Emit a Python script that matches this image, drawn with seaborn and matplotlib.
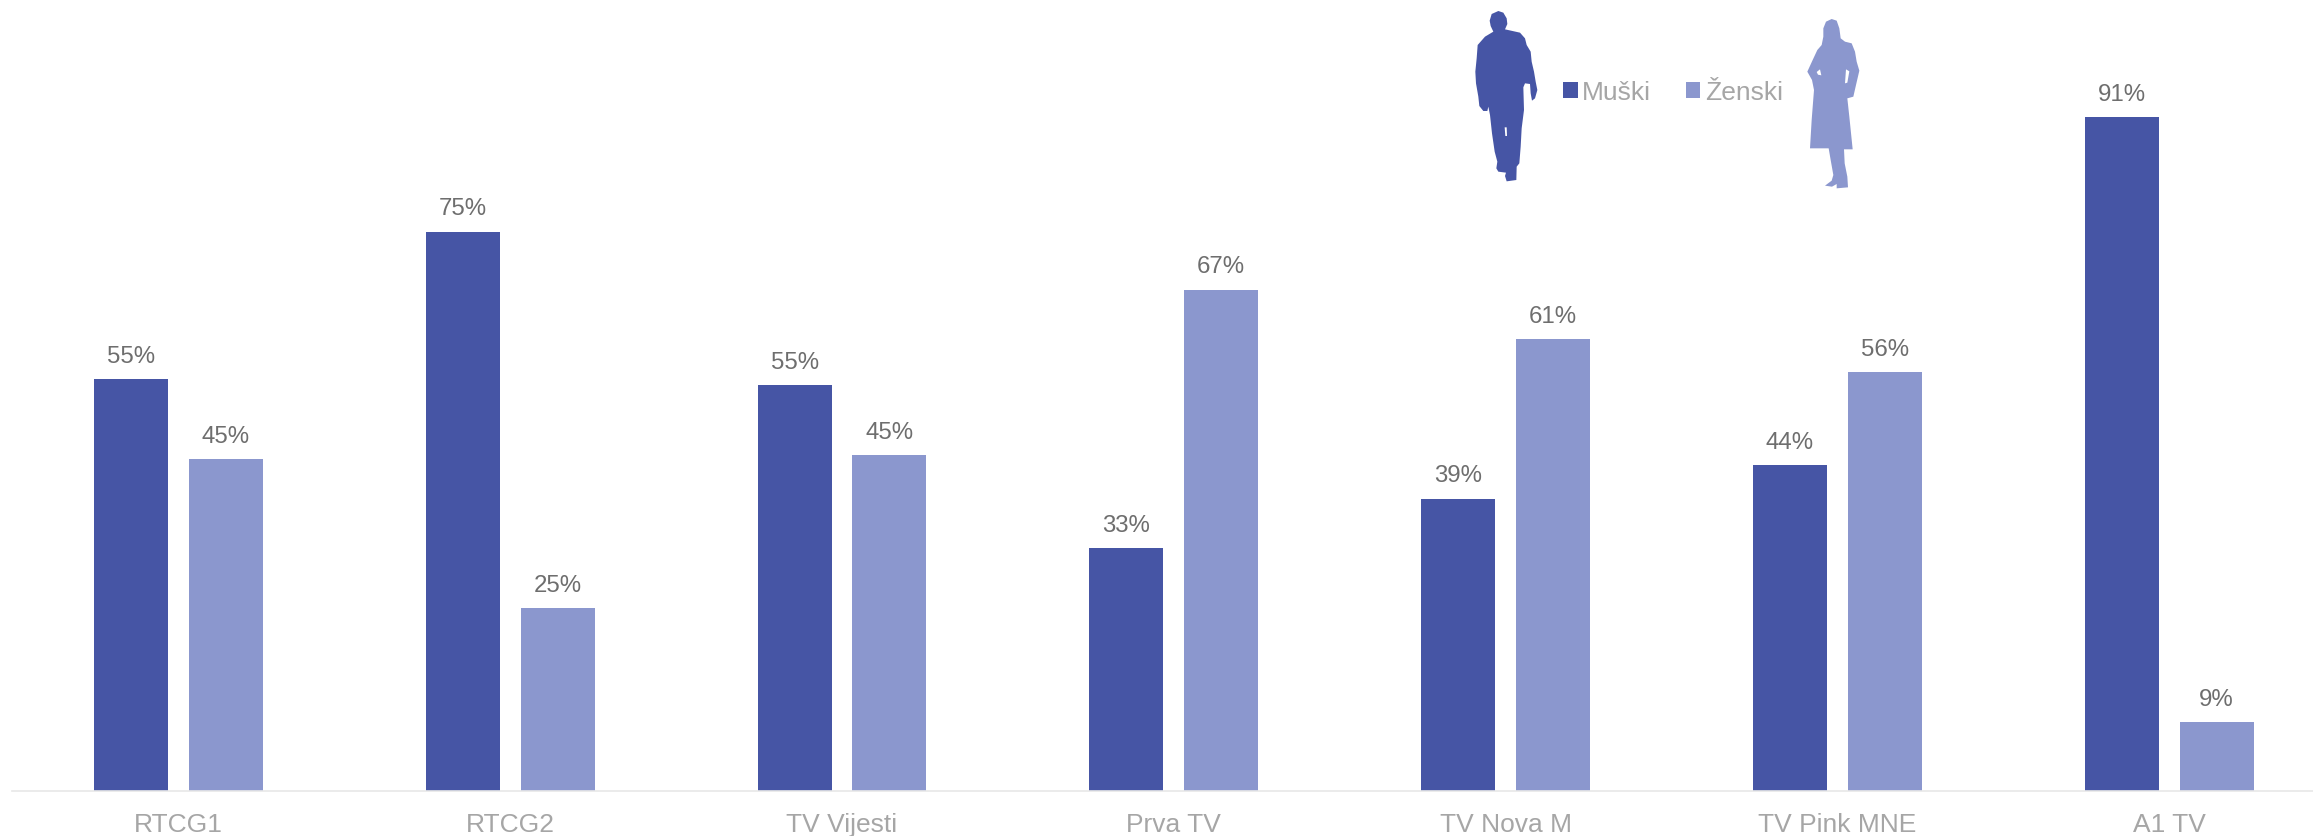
import pandas as pd
import seaborn as sns
import matplotlib.pyplot as plt
from matplotlib.patches import Polygon

channels = ['RTCG1', 'RTCG2', 'TV Vijesti', 'Prva TV', 'TV Nova M', 'TV Pink MNE', 'A1 TV']
muski = [55.4, 75.2, 54.6, 32.6, 39.3, 43.8, 90.6]
zenski = [44.6, 24.6, 45.2, 67.4, 60.7, 56.3, 9.3]

DARK = '#4655A5'
LIGHT = '#8B97CE'

sns.set_theme(style='white')
plt.rcParams['font.family'] = ['Liberation Sans', 'DejaVu Sans']

df = pd.DataFrame({
    'Kanal': channels * 2,
    'Pol': ['Muški'] * len(channels) + ['Ženski'] * len(channels),
    'Udio': muski + zenski,
})

W, H = 2313, 836
fig = plt.figure(figsize=(W / 100, H / 100), dpi=100)

# axes span from x=12 to the right edge, baseline at y=791 px
ax = fig.add_axes([12 / W, (H - 791) / H, (W - 12) / W, 791 / H])
sns.barplot(data=df, x='Kanal', y='Udio', hue='Pol', palette=[DARK, LIGHT],
            width=0.571, gap=0.219, saturation=1, linewidth=0, ax=ax)

ax.set_xlim((12 - 178.4) / 331.8, (W - 178.4) / 331.8)
ax.set_ylim(0, 791 / 7.44)
ax.set_xlabel('')
ax.set_ylabel('')
ax.set_yticks([])
ax.tick_params(axis='x', length=0, pad=15.5, labelsize=19, labelcolor='#A6A6A6')
for side in ['top', 'left', 'right']:
    ax.spines[side].set_visible(False)
ax.spines['bottom'].set_color('#E8E8E8')
ax.spines['bottom'].set_linewidth(1.2)

for container in ax.containers:
    ax.bar_label(container, fmt='%.0f%%', padding=8, fontsize=17.3, color='#6E6E6E')

# legend sits between the two silhouettes
ax.legend(loc='center left', bbox_to_anchor=(1563 / W, (H - 92.5) / H),
          bbox_transform=fig.transFigure, ncol=2, frameon=False, fontsize=19,
          labelcolor='#A6A6A6', handlelength=0.56, handleheight=0.56,
          handletextpad=0.17, columnspacing=1.3, borderpad=0, borderaxespad=0)

# silhouettes, in pixels of the full figure
overlay = fig.add_axes([0, 0, 1, 1], facecolor='none')
overlay.set_xlim(0, W)
overlay.set_ylim(H, 0)
overlay.axis('off')

man = [(235, 33), (250, 38), (260, 55), (262, 72), (255, 88), (300, 98), (315, 115), (320, 135),
       (332, 155), (335, 185), (342, 215), (347, 245), (352, 270), (345, 295), (336, 302),
       (332, 280), (330, 252), (315, 250), (310, 262), (312, 330), (305, 385), (302, 440),
       (298, 490), (290, 500), (289, 540), (260, 544), (255, 528), (258, 518), (235, 515),
       (229, 505), (232, 485), (224, 455), (216, 400), (210, 345), (205, 320), (202, 333),
       (190, 333), (178, 318), (175, 290), (168, 250), (166, 215), (170, 175), (173, 135),
       (195, 110), (220, 95), (212, 78), (209, 62), (215, 42)]
man_gap = [(254, 382), (260, 382), (261, 408), (256, 408)]

woman = [(1235, 57), (1250, 62), (1258, 85), (1262, 115), (1275, 125), (1295, 130), (1305, 155),
         (1310, 185), (1318, 212), (1308, 255), (1300, 290), (1282, 295), (1288, 350), (1298, 448),
         (1272, 448), (1274, 490), (1282, 530), (1284, 562), (1250, 565), (1250, 552), (1236, 560),
         (1215, 557), (1235, 542), (1240, 525), (1232, 480), (1226, 445), (1170, 445), (1175, 360),
         (1182, 270), (1176, 240), (1162, 215), (1178, 180), (1192, 150), (1205, 135), (1210, 110),
         (1210, 85), (1218, 65)]
woman_gaps = [[(1190, 216), (1200, 208), (1204, 226), (1194, 224)],
              [(1278, 208), (1288, 214), (1282, 248), (1275, 250)]]


def add_shape(points, color):
    pts = [(1420 + x / 3, y / 3) for x, y in points]
    overlay.add_patch(Polygon(pts, closed=True, facecolor=color, edgecolor='none'))


add_shape(man, DARK)
add_shape(man_gap, 'white')
add_shape(woman, LIGHT)
for gap in woman_gaps:
    add_shape(gap, 'white')

fig.savefig('out.png', dpi=100, facecolor='white')
